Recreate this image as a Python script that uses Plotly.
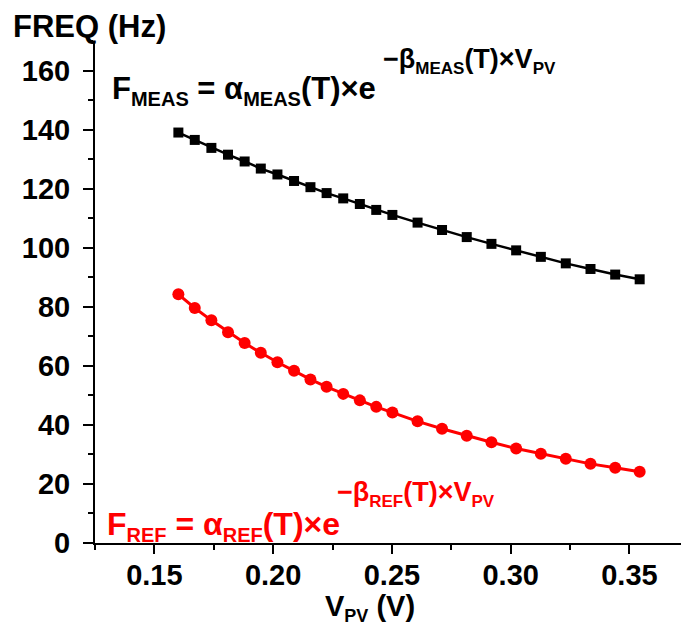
import plotly.graph_objects as go

# Data
v_meas = [0.1601, 0.1670, 0.1740, 0.1810, 0.1880, 0.1948, 0.2018, 0.2088, 0.2157, 0.2225,
          0.2295, 0.2365, 0.2434, 0.2502, 0.2608, 0.2711, 0.2815, 0.2919, 0.3023, 0.3127,
          0.3232, 0.3336, 0.3440, 0.3543]
f_meas = [139.0, 136.5, 133.8, 131.5, 129.2, 126.8, 124.8, 122.6, 120.5, 118.5,
          116.7, 114.8, 112.8, 111.1, 108.5, 106.0, 103.6, 101.3, 99.1, 96.9,
          94.7, 92.8, 90.9, 89.3]
v_ref = v_meas
f_ref = [84.2, 79.6, 75.4, 71.4, 67.7, 64.4, 61.2, 58.3, 55.4, 52.9,
         50.5, 48.3, 46.1, 44.2, 41.2, 38.7, 36.3, 34.1, 32.0, 30.2,
         28.5, 26.8, 25.5, 24.1]
x_ticks = [0.15, 0.20, 0.25, 0.30, 0.35]
x_tick_labels = ["0.15", "0.20", "0.25", "0.30", "0.35"]
y_ticks = [0, 20, 40, 60, 80, 100, 120, 140, 160]
y_tick_labels = ["0", "20", "40", "60", "80", "100", "120", "140", "160"]

FONT = "Liberation Sans"
W, H = 681, 628
ML, MR, MT, MB = 95, 0, 41, 85

fig = go.Figure()
fig.add_trace(go.Scatter(
    x=v_meas, y=f_meas, mode="lines+markers",
    line=dict(color="black", width=2.5),
    marker=dict(symbol="square", size=10, color="black"),
    showlegend=False, cliponaxis=False))
fig.add_trace(go.Scatter(
    x=v_ref, y=f_ref, mode="lines+markers",
    line=dict(color="#ff0000", width=3),
    marker=dict(symbol="circle", size=12, color="#ff0000"),
    showlegend=False, cliponaxis=False))


def px(xp):
    return (xp - ML) / (W - ML - MR)


def py(yp):
    return (H - MB - yp) / (H - MT - MB)


def sub(s, size):
    return "<sub><span style='font-size:%dpx'>%s</span></sub>" % (size, s)


anns = [
    dict(text="FREQ (Hz)", x=px(11), y=py(26), xanchor="left", yanchor="middle",
         font=dict(size=31, color="black")),
    dict(text="V" + sub("PV", 18) + " (V)", x=px(370), y=py(608), xanchor="center", yanchor="middle",
         font=dict(size=29, color="black")),
    dict(text="F" + sub("MEAS", 20) + " = α" + sub("MEAS", 20) + "(T)×e",
         x=px(110), y=py(90), xanchor="left", yanchor="middle",
         font=dict(size=31, color="black")),
    dict(text="−β" + sub("MEAS", 17) + "(T)×V" + sub("PV", 17),
         x=px(381), y=py(61), xanchor="left", yanchor="middle",
         font=dict(size=27, color="black")),
    dict(text="F" + sub("REF", 20) + " = α" + sub("REF", 20) + "(T)×e",
         x=px(105), y=py(526), xanchor="left", yanchor="middle",
         font=dict(size=32, color="#ff0000")),
    dict(text="−β" + sub("REF", 17) + "(T)×V" + sub("PV", 17),
         x=px(335), y=py(494), xanchor="left", yanchor="middle",
         font=dict(size=27, color="#ff0000")),
]
for a in anns:
    a.update(xref="paper", yref="paper", showarrow=False)
    a["font"].update(family=FONT, weight="bold")

fig.update_layout(
    width=W, height=H,
    margin=dict(l=ML, r=MR, t=MT, b=MB),
    paper_bgcolor="white", plot_bgcolor="white",
    annotations=anns,
    font=dict(family=FONT, weight="bold", color="black"),
)
fig.update_xaxes(
    range=[0.125, 0.3717], tickvals=x_ticks, ticktext=x_tick_labels,
    showgrid=False, zeroline=False, showline=True, linecolor="black", linewidth=2,
    ticks="outside", ticklen=9, tickwidth=2, tickcolor="black", ticklabelstandoff=-4,
    tickfont=dict(family=FONT, size=29, weight="bold", color="black"),
    minor=dict(dtick=0.025, tick0=0.125, ticks="outside", ticklen=5, tickwidth=2, tickcolor="black"),
)
fig.update_yaxes(
    range=[0, 170], tickvals=y_ticks, ticktext=y_tick_labels,
    showgrid=False, zeroline=False, showline=True, linecolor="black", linewidth=2,
    ticks="outside", ticklen=10, tickwidth=2, tickcolor="black", ticklabelstandoff=7,
    tickfont=dict(family=FONT, size=29, weight="bold", color="black"),
    minor=dict(dtick=10, tick0=0, ticks="outside", ticklen=5, tickwidth=2, tickcolor="black"),
)

fig.write_html("out.html")
